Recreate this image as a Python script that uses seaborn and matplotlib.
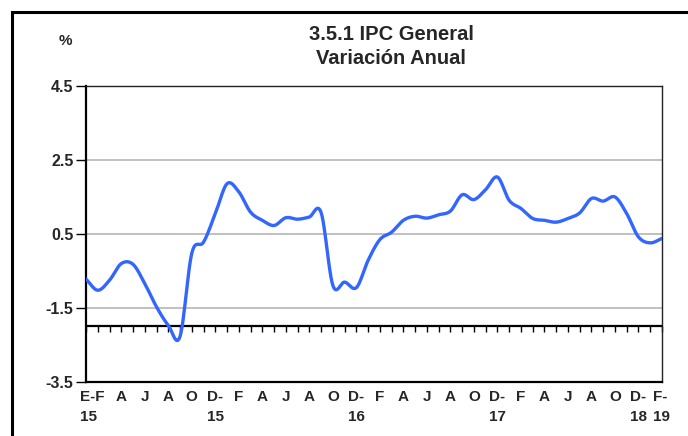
import matplotlib

matplotlib.use("Agg")
import matplotlib.pyplot as plt
import numpy as np
import pandas as pd
import seaborn as sns
from matplotlib.patches import Rectangle

sns.set_theme(style="white")
plt.rcParams["font.family"] = ["Liberation Sans", "DejaVu Sans"]
plt.rcParams["font.weight"] = "bold"

# monthly annual CPI variation, Jan 2015 .. Feb 2019
months = pd.date_range("2015-01-01", "2019-02-01", freq="MS")
ipc_values = [
    -0.72, -1.02, -0.75, -0.30, -0.32, -0.84, -1.47, -1.97, -2.27, -0.02, 0.28, 1.05,
    1.86, 1.64, 1.09, 0.87, 0.73, 0.94, 0.90, 0.96, 1.08, -0.89, -0.80, -0.95,
    -0.21, 0.35, 0.55, 0.87, 0.98, 0.93, 1.02, 1.12, 1.56, 1.43, 1.70, 2.04,
    1.41, 1.19, 0.92, 0.87, 0.82, 0.92, 1.07, 1.46, 1.39, 1.50, 1.05, 0.42,
    0.26, 0.38,
]

y_ticks = [-3.5, -1.5, 0.5, 2.5, 4.5]
x_tick_pos = [0.5] + list(range(3, 50, 2))
x_tick_labels = [
    "E-F\n15", "A", "J", "A", "O", "D-\n15",
    "F", "A", "J", "A", "O", "D-\n16",
    "F", "A", "J", "A", "O", "D-\n17",
    "F", "A", "J", "A", "O", "D-\n18",
    "F-\n19",
]
axis_cross = -2.0
line_color = "#3366ff"


def smooth_line(x: np.ndarray, y: np.ndarray, steps: int = 12) -> tuple[np.ndarray, np.ndarray]:
    # catmull-rom through the monthly points, only for the drawing (like excel's smoothed line)
    px = np.concatenate([[2 * x[0] - x[1]], x, [2 * x[-1] - x[-2]]])
    py = np.concatenate([[2 * y[0] - y[1]], y, [2 * y[-1] - y[-2]]])
    xs, ys = [], []
    t = np.linspace(0, 1, steps, endpoint=False)
    for i in range(1, len(px) - 2):
        for p, out in ((px, xs), (py, ys)):
            p0, p1, p2, p3 = p[i - 1], p[i], p[i + 1], p[i + 2]
            out.extend(
                0.5 * (2 * p1 + (-p0 + p2) * t + (2 * p0 - 5 * p1 + 4 * p2 - p3) * t**2
                       + (-p0 + 3 * p1 - 3 * p2 + p3) * t**3)
            )
    xs.append(x[-1])
    ys.append(y[-1])
    return np.array(xs), np.array(ys)


idx = np.arange(len(months), dtype=float)
sx, sy = smooth_line(idx, np.array(ipc_values))
df = pd.DataFrame({"pos": sx, "value": sy})

fig = plt.figure(figsize=(6.88, 4.36), dpi=100)
ax = fig.add_axes([86 / 688, 1 - 382 / 436, 576 / 688, 296 / 436])

for v in y_ticks[1:-1]:
    ax.axhline(v, color="#c0c0c0", lw=1.4, zorder=1)

sns.lineplot(data=df, x="pos", y="value", color=line_color, lw=2.4, sort=False,
             estimator=None, ax=ax, zorder=3)

ax.set_xlim(0, len(months) - 1)
ax.set_ylim(y_ticks[0], y_ticks[-1])
ax.set_xlabel("")
ax.set_ylabel("")

ax.set_yticks(y_ticks)
ax.set_yticklabels([f"{v:.1f}" for v in y_ticks], fontsize=11.5, fontweight="bold")
ax.tick_params(axis="y", direction="out", length=7, width=1, color="black", pad=2, left=True)

ax.set_xticks(x_tick_pos)
ax.set_xticklabels(x_tick_labels, fontsize=11, fontweight="bold", linespacing=1.5)
ax.tick_params(axis="x", length=0, pad=6)
for lab in ax.get_xticklabels():
    lab.set_multialignment("left")

for side in ["left", "bottom"]:
    ax.spines[side].set_color("black")
    ax.spines[side].set_linewidth(1.6)
for side in ["top", "right"]:
    ax.spines[side].set_color("#222222")
    ax.spines[side].set_linewidth(1.0)

# category axis crossing at -2 with month ticks
ax.axhline(axis_cross, color="black", lw=1.6, zorder=2)
frac = (axis_cross - y_ticks[0]) / (y_ticks[-1] - y_ticks[0])
sec = ax.secondary_xaxis(frac)
sec.set_xticks(idx)
sec.tick_params(axis="x", direction="out", length=4, width=1, color="black", labelbottom=False)
sec.spines["bottom"].set_visible(False)

fig.text(391 / 688, 1 - 35 / 436, "3.5.1 IPC General", ha="center", va="center",
         fontsize=14.5, fontweight="bold")
fig.text(391 / 688, 1 - 58 / 436, "Variación Anual", ha="center", va="center",
         fontsize=14.5, fontweight="bold")
fig.text(65 / 688, 1 - 41 / 436, "%", ha="center", va="center", fontsize=11, fontweight="bold")

# outer frame, running off the right and bottom edges
frame_top = 1 - 12 / 436
fig.patches.append(Rectangle((12 / 688, -0.2), 1.2, frame_top + 0.2,
                             transform=fig.transFigure, fill=False, lw=2.2,
                             edgecolor="black", figure=fig))

fig.savefig("out.png", dpi=100)
